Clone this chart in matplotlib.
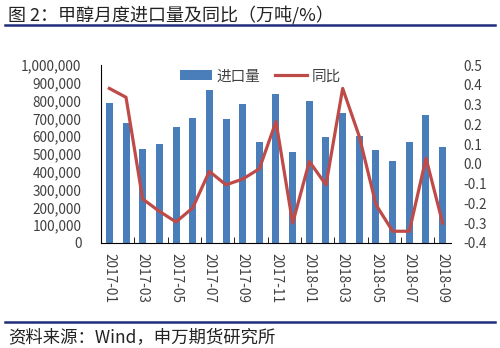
import matplotlib.pyplot as plt
import numpy as np

plt.rcParams["font.family"] = ["Noto Sans CJK SC", "DejaVu Sans"]

months = [
    "2017-01", "2017-02", "2017-03", "2017-04", "2017-05", "2017-06", "2017-07",
    "2017-08", "2017-09", "2017-10", "2017-11", "2017-12", "2018-01", "2018-02",
    "2018-03", "2018-04", "2018-05", "2018-06", "2018-07", "2018-08", "2018-09",
]
imports = [
    787000, 677000, 529000, 557000, 654000, 703000, 862000,
    699000, 779000, 566000, 836000, 512000, 800000, 596000,
    729000, 602000, 525000, 462000, 566000, 718000, 540000,
]
yoy = [
    0.382, 0.337, -0.178, -0.24, -0.294, -0.223, -0.038,
    -0.106, -0.077, -0.025, 0.214, -0.30, 0.012, -0.106,
    0.382, 0.138, -0.207, -0.341, -0.341, 0.029, -0.30,
]

bar_color = "#4A7EBB"
line_color = "#BE4B48"
navy = "#1F2D7A"
text_gray = "#404040"

fig = plt.figure(figsize=(5.0, 3.48), dpi=100)
ax = fig.add_axes([0.202, 0.302, 0.70, 0.511])
ax2 = ax.twinx()

x = np.arange(len(months))
ax.bar(x, imports, width=0.42, color=bar_color, label="进口量", zorder=2)
ax2.plot(x, yoy, color=line_color, linewidth=2.3, label="同比", zorder=3)

ax.set_xlim(-0.5, len(months) - 0.5)
ax.set_ylim(0, 1000000)
ax2.set_ylim(-0.4, 0.5)

yt = np.arange(0, 1000001, 100000)
ax.set_yticks(yt)
ax.set_yticklabels([f"{v:,}" for v in yt], fontsize=9.8, color=text_gray)
ax.tick_params(axis="y", length=0, pad=14)

rt = np.round(np.arange(-0.4, 0.51, 0.1), 1)
ax2.set_yticks(rt)
ax2.set_yticklabels([f"{abs(v):.1f}" if v == 0 else f"{v:.1f}" for v in rt],
                    fontsize=9.8, color=text_gray)
ax2.tick_params(axis="y", length=0, pad=9)

# labels on every other month, tick marks on the boundaries between pairs
ax.set_xticks(x[::2])
ax.set_xticklabels(months[::2], rotation=270, fontsize=9.8, color=text_gray)
ax.set_xticks(np.arange(1.5, len(months) - 0.5, 2), minor=True)
ax.tick_params(axis="x", which="major", length=0, pad=7)
ax.tick_params(axis="x", which="minor", direction="in", length=4, color="black")

for a in (ax, ax2):
    for s in ("top", "right"):
        a.spines[s].set_visible(False)
ax2.spines["left"].set_visible(False)
ax2.spines["bottom"].set_visible(False)
ax.spines["left"].set_color("black")
ax.spines["bottom"].set_color("black")

h1, l1 = ax.get_legend_handles_labels()
h2, l2 = ax2.get_legend_handles_labels()
ax.legend(h1 + h2, l1 + l2, loc="upper center", bbox_to_anchor=(0.455, 1.05),
          ncol=2, frameon=False, fontsize=10.5, handlelength=2.2,
          handleheight=0.7, handletextpad=0.3, columnspacing=1.0,
          labelcolor=text_gray)

fig.text(0.016, 0.958, "图 2：甲醇月度进口量及同比（万吨/%）", fontsize=13,
         color="#222222", va="center", ha="left")
fig.add_artist(plt.Line2D([0.01, 0.99], [0.927, 0.927], color=navy, linewidth=1.8))
fig.add_artist(plt.Line2D([0.01, 0.99], [0.075, 0.075], color=navy, linewidth=1.8))
fig.text(0.016, 0.032, "资料来源：Wind，申万期货研究所", fontsize=12.5,
         color="#222222", va="center", ha="left")

fig.savefig("out.png", dpi=100)
